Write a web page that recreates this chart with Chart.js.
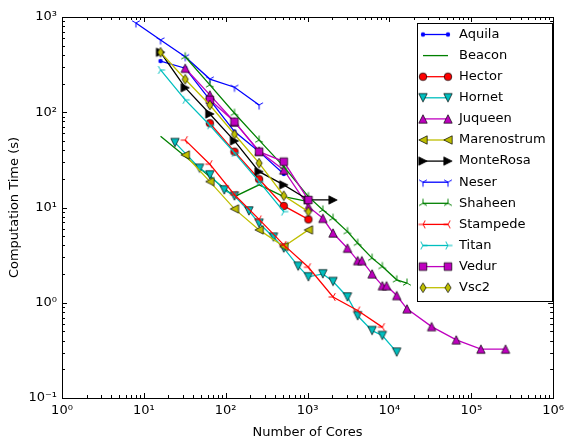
<!DOCTYPE html>
<html>
<head>
<meta charset="utf-8">
<script src="https://cdn.jsdelivr.net/npm/chart.js@4.4.1/dist/chart.umd.min.js"></script>
<style>
  html, body { margin: 0; padding: 0; background: #fff; }
  #wrap { width: 569px; height: 440px; }
</style>
</head>
<body>
<div id="wrap"><canvas id="grafica"></canvas></div>
<script>
// datos (nucleos / segundos)
var nombres = ['Aquila', 'Beacon', 'Hector', 'Hornet', 'Juqueen', 'Marenostrum', 'MonteRosa',
               'Neser', 'Shaheen', 'Stampede', 'Titan', 'Vedur', 'Vsc2'];

var aquilaCores = [16, 32, 64, 128, 256, 512];
var aquilaTime  = [345, 290, 135, 62.6, 38.6, 22.5];

var beaconCores = [16, 128, 256, 512, 1024];
var beaconTime  = [56, 13, 17.3, 13, 11.5];

var hectorCores = [64, 128, 256, 512, 1024];
var hectorTime  = [76.7, 38.6, 19.8, 10.4, 7.5];

var hornetCores = [24, 48, 64, 96, 128, 192, 256, 384, 512, 768, 1024, 1536, 2048, 3072, 4096, 6144, 8192, 12288];
var hornetTime  = [48, 25.8, 22, 15.3, 13.2, 9.2, 6.84, 4.88, 3.74, 2.42, 1.87, 2.01, 1.67, 1.15, 0.73, 0.51, 0.453, 0.303];

var juqueenCores = [32, 64, 128, 256, 512, 1024, 1536, 2048, 3072, 4096, 4608, 6144, 8192, 9216, 12288, 16384, 32768, 65536, 131072, 262144];
var juqueenTime  = [290, 152, 79, 39, 24.8, 10.2, 7.7, 5.4, 3.74, 2.77, 2.77, 2.01, 1.51, 1.51, 1.19, 0.863, 0.562, 0.408, 0.326, 0.326];

var marenostrumCores = [32, 64, 128, 256, 512, 1024];
var marenostrumTime  = [35.6, 18.7, 9.67, 5.82, 3.89, 5.82];

var monteRosaCores = [16, 32, 64, 128, 256, 512, 1024, 2048];
var monteRosaTime  = [426, 181, 96, 50, 23.8, 17.3, 12, 12];

var neserCores = [8, 16, 32, 64, 128, 256];
var neserTime  = [865, 574, 383, 223, 183, 119];

var shaheenCores = [32, 64, 128, 256, 512, 1024, 1536, 2048, 3072, 4096, 6144, 8192, 12288, 16384];
var shaheenTime  = [383, 194, 97.6, 51, 26.9, 13, 9.44, 7.72, 5.58, 4.22, 2.94, 2.4, 1.74, 1.61];

var stampedeCores = [32, 64, 128, 256, 512, 1024, 2048, 4096, 8192];
var stampedeTime  = [51, 28.5, 13.6, 7.5, 4.05, 2.36, 1.15, 0.83, 0.555];

var titanCores = [16, 32, 64, 128, 256, 512];
var titanTime  = [278, 135, 73, 37.4, 18.7, 9.06];

var vedurCores = [64, 128, 256, 512, 1024];
var vedurTime  = [135, 79.6, 38.6, 30.3, 12];

var vsc2Cores = [16, 32, 64, 128, 256, 512, 1024];
var vsc2Time  = [426, 222, 119, 58.7, 29.2, 13.3, 9.06];

var xTickValues = [1, 10, 100, 1000, 10000, 100000, 1000000];
var xTickLabels = ['10\u2070', '10\u00b9', '10\u00b2', '10\u00b3', '10\u2074', '10\u2075', '10\u2076'];
var yTickValues = [0.1, 1, 10, 100, 1000];
var yTickLabels = ['10\u207b\u00b9', '10\u2070', '10\u00b9', '10\u00b2', '10\u00b3'];

// estilos tipo matplotlib clasico
var azul = '#0000ff', verde = '#008000', rojo = '#ff0000', cian = '#00bfbf',
    magenta = '#bf00bf', amarillo = '#bfbf00', negro = '#000000';

function crearMarcador(forma, color) {
    var s = 14;
    var c = document.createElement('canvas');
    c.width = s; c.height = s;
    var ctx = c.getContext('2d');
    ctx.translate(s / 2, s / 2);
    ctx.fillStyle = color;
    ctx.strokeStyle = '#000';
    ctx.lineWidth = 0.7;
    var r = 4.2;
    ctx.beginPath();
    if (forma === 'punto') {
        ctx.arc(0, 0, 2.2, 0, Math.PI * 2);
        ctx.fill();
        return c;
    } else if (forma === 'circulo') {
        ctx.arc(0, 0, 3.8, 0, Math.PI * 2);
    } else if (forma === 'abajo') {
        ctx.moveTo(0, r); ctx.lineTo(-r, -r); ctx.lineTo(r, -r); ctx.closePath();
    } else if (forma === 'arriba') {
        ctx.moveTo(0, -r); ctx.lineTo(-r, r); ctx.lineTo(r, r); ctx.closePath();
    } else if (forma === 'izquierda') {
        ctx.moveTo(-r, 0); ctx.lineTo(r, -r); ctx.lineTo(r, r); ctx.closePath();
    } else if (forma === 'derecha') {
        ctx.moveTo(r, 0); ctx.lineTo(-r, -r); ctx.lineTo(-r, r); ctx.closePath();
    } else if (forma === 'cuadrado') {
        ctx.rect(-3.8, -3.8, 7.6, 7.6);
    } else if (forma === 'diamante') {
        ctx.moveTo(0, -4.8); ctx.lineTo(3.1, 0); ctx.lineTo(0, 4.8); ctx.lineTo(-3.1, 0); ctx.closePath();
    } else {
        // marcadores tri (solo lineas)
        var angulos = { tri1: [90, 210, 330], tri2: [270, 30, 150], tri3: [180, 300, 60], tri4: [0, 120, 240] }[forma];
        ctx.strokeStyle = color;
        ctx.lineWidth = 1;
        angulos.forEach(function(a) {
            var rad = a * Math.PI / 180;
            ctx.moveTo(0, 0);
            ctx.lineTo(Math.cos(rad) * 4.5, Math.sin(rad) * 4.5);
        });
        ctx.stroke();
        return c;
    }
    ctx.fill();
    ctx.stroke();
    return c;
}

var series = [
    { x: aquilaCores, y: aquilaTime, color: azul, marca: 'punto' },
    { x: beaconCores, y: beaconTime, color: verde, marca: null },
    { x: hectorCores, y: hectorTime, color: rojo, marca: 'circulo' },
    { x: hornetCores, y: hornetTime, color: cian, marca: 'abajo' },
    { x: juqueenCores, y: juqueenTime, color: magenta, marca: 'arriba' },
    { x: marenostrumCores, y: marenostrumTime, color: amarillo, marca: 'izquierda' },
    { x: monteRosaCores, y: monteRosaTime, color: negro, marca: 'derecha' },
    { x: neserCores, y: neserTime, color: azul, marca: 'tri1' },
    { x: shaheenCores, y: shaheenTime, color: verde, marca: 'tri2' },
    { x: stampedeCores, y: stampedeTime, color: rojo, marca: 'tri3' },
    { x: titanCores, y: titanTime, color: cian, marca: 'tri4' },
    { x: vedurCores, y: vedurTime, color: magenta, marca: 'cuadrado' },
    { x: vsc2Cores, y: vsc2Time, color: amarillo, marca: 'diamante' }
];

var datasets = series.map(function(s, i) {
    var img = s.marca ? crearMarcador(s.marca, s.color) : null;
    s.img = img;
    return {
        label: nombres[i],
        data: s.x.map(function(v, j) { return { x: v, y: s.y[j] }; }),
        borderColor: s.color,
        backgroundColor: s.color,
        borderWidth: 1.3,
        pointStyle: img || 'circle',
        pointRadius: img ? 3 : 0,
        tension: 0,
        order: series.length - i
    };
});

var fuente = { family: 'DejaVu Sans', size: 13 };

// marco, marcas de ejes hacia dentro y leyenda
var marcoPlugin = {
    id: 'marco',
    afterDraw: function(chart) {
        var ctx = chart.ctx;
        var a = chart.chartArea;
        var sx = chart.scales.x, sy = chart.scales.y;
        ctx.save();
        ctx.strokeStyle = '#000';
        ctx.lineWidth = 1;
        ctx.strokeRect(Math.round(a.left) + 0.5, Math.round(a.top) + 0.5,
                       Math.round(a.right - a.left), Math.round(a.bottom - a.top));
        ctx.beginPath();
        var d, k, v, p, len;
        for (d = 0; d <= 6; d++) {
            for (k = 1; k <= 9; k++) {
                if (d === 6 && k > 1) break;
                v = k * Math.pow(10, d);
                p = Math.round(sx.getPixelForValue(v)) + 0.5;
                len = k === 1 ? 5 : 3;
                ctx.moveTo(p, a.bottom); ctx.lineTo(p, a.bottom - len);
                ctx.moveTo(p, a.top); ctx.lineTo(p, a.top + len);
            }
        }
        for (d = -1; d <= 3; d++) {
            for (k = 1; k <= 9; k++) {
                if (d === 3 && k > 1) break;
                v = k * Math.pow(10, d);
                p = Math.round(sy.getPixelForValue(v)) + 0.5;
                len = k === 1 ? 5 : 3;
                ctx.moveTo(a.left, p); ctx.lineTo(a.left + len, p);
                ctx.moveTo(a.right, p); ctx.lineTo(a.right - len, p);
            }
        }
        ctx.stroke();

        // leyenda
        var bx = 417, by = 23, bw = 135, bh = 278;
        ctx.fillStyle = '#fff';
        ctx.fillRect(bx, by, bw, bh);
        ctx.strokeRect(bx + 0.5, by + 0.5, bw, bh);
        ctx.font = '13px "DejaVu Sans"';
        ctx.textBaseline = 'middle';
        ctx.textAlign = 'left';
        series.forEach(function(s, i) {
            var yy = 34.5 + i * 21.1;
            ctx.strokeStyle = s.color;
            ctx.lineWidth = 1.3;
            ctx.beginPath();
            ctx.moveTo(423, yy); ctx.lineTo(448, yy);
            ctx.stroke();
            if (s.img) {
                ctx.drawImage(s.img, 423 - s.img.width / 2, yy - s.img.height / 2);
                ctx.drawImage(s.img, 448 - s.img.width / 2, yy - s.img.height / 2);
            }
            ctx.fillStyle = '#000';
            ctx.fillText(nombres[i], 459, yy);
        });
        ctx.restore();
    }
};

var grafica = new Chart(document.getElementById('grafica').getContext('2d'), {
    type: 'line',
    data: { datasets: datasets },
    options: {
        responsive: true,
        maintainAspectRatio: false,
        animation: false,
        events: [],
        layout: { padding: { top: 17, right: 12, left: 0, bottom: 0 } },
        plugins: {
            legend: { display: false },
            tooltip: { enabled: false }
        },
        scales: {
            x: {
                type: 'logarithmic',
                min: 1,
                max: 1000000,
                grid: { display: false, drawTicks: false },
                border: { display: false },
                afterBuildTicks: function(s) { s.ticks = xTickValues.map(function(v) { return { value: v }; }); },
                afterFit: function(s) { s.height = 42; },
                ticks: {
                    font: fuente, color: '#000', padding: 5, autoSkip: false, maxRotation: 0,
                    callback: function(value, index) { return xTickLabels[index]; }
                },
                title: { display: true, text: 'Number of Cores', font: fuente, color: '#000', padding: { top: 0, bottom: 0 } }
            },
            y: {
                type: 'logarithmic',
                min: 0.1,
                max: 1000,
                grid: { display: false, drawTicks: false },
                border: { display: false },
                afterBuildTicks: function(s) { s.ticks = yTickValues.map(function(v) { return { value: v }; }); },
                afterFit: function(s) { s.width = 62; },
                ticks: {
                    font: fuente, color: '#000', padding: 5, autoSkip: false,
                    callback: function(value, index) { return yTickLabels[index]; }
                },
                title: { display: true, text: 'Computation Time (s)', font: fuente, color: '#000', padding: { top: 7, bottom: 0 } }
            }
        }
    },
    plugins: [marcoPlugin]
});
</script>
</body>
</html>
